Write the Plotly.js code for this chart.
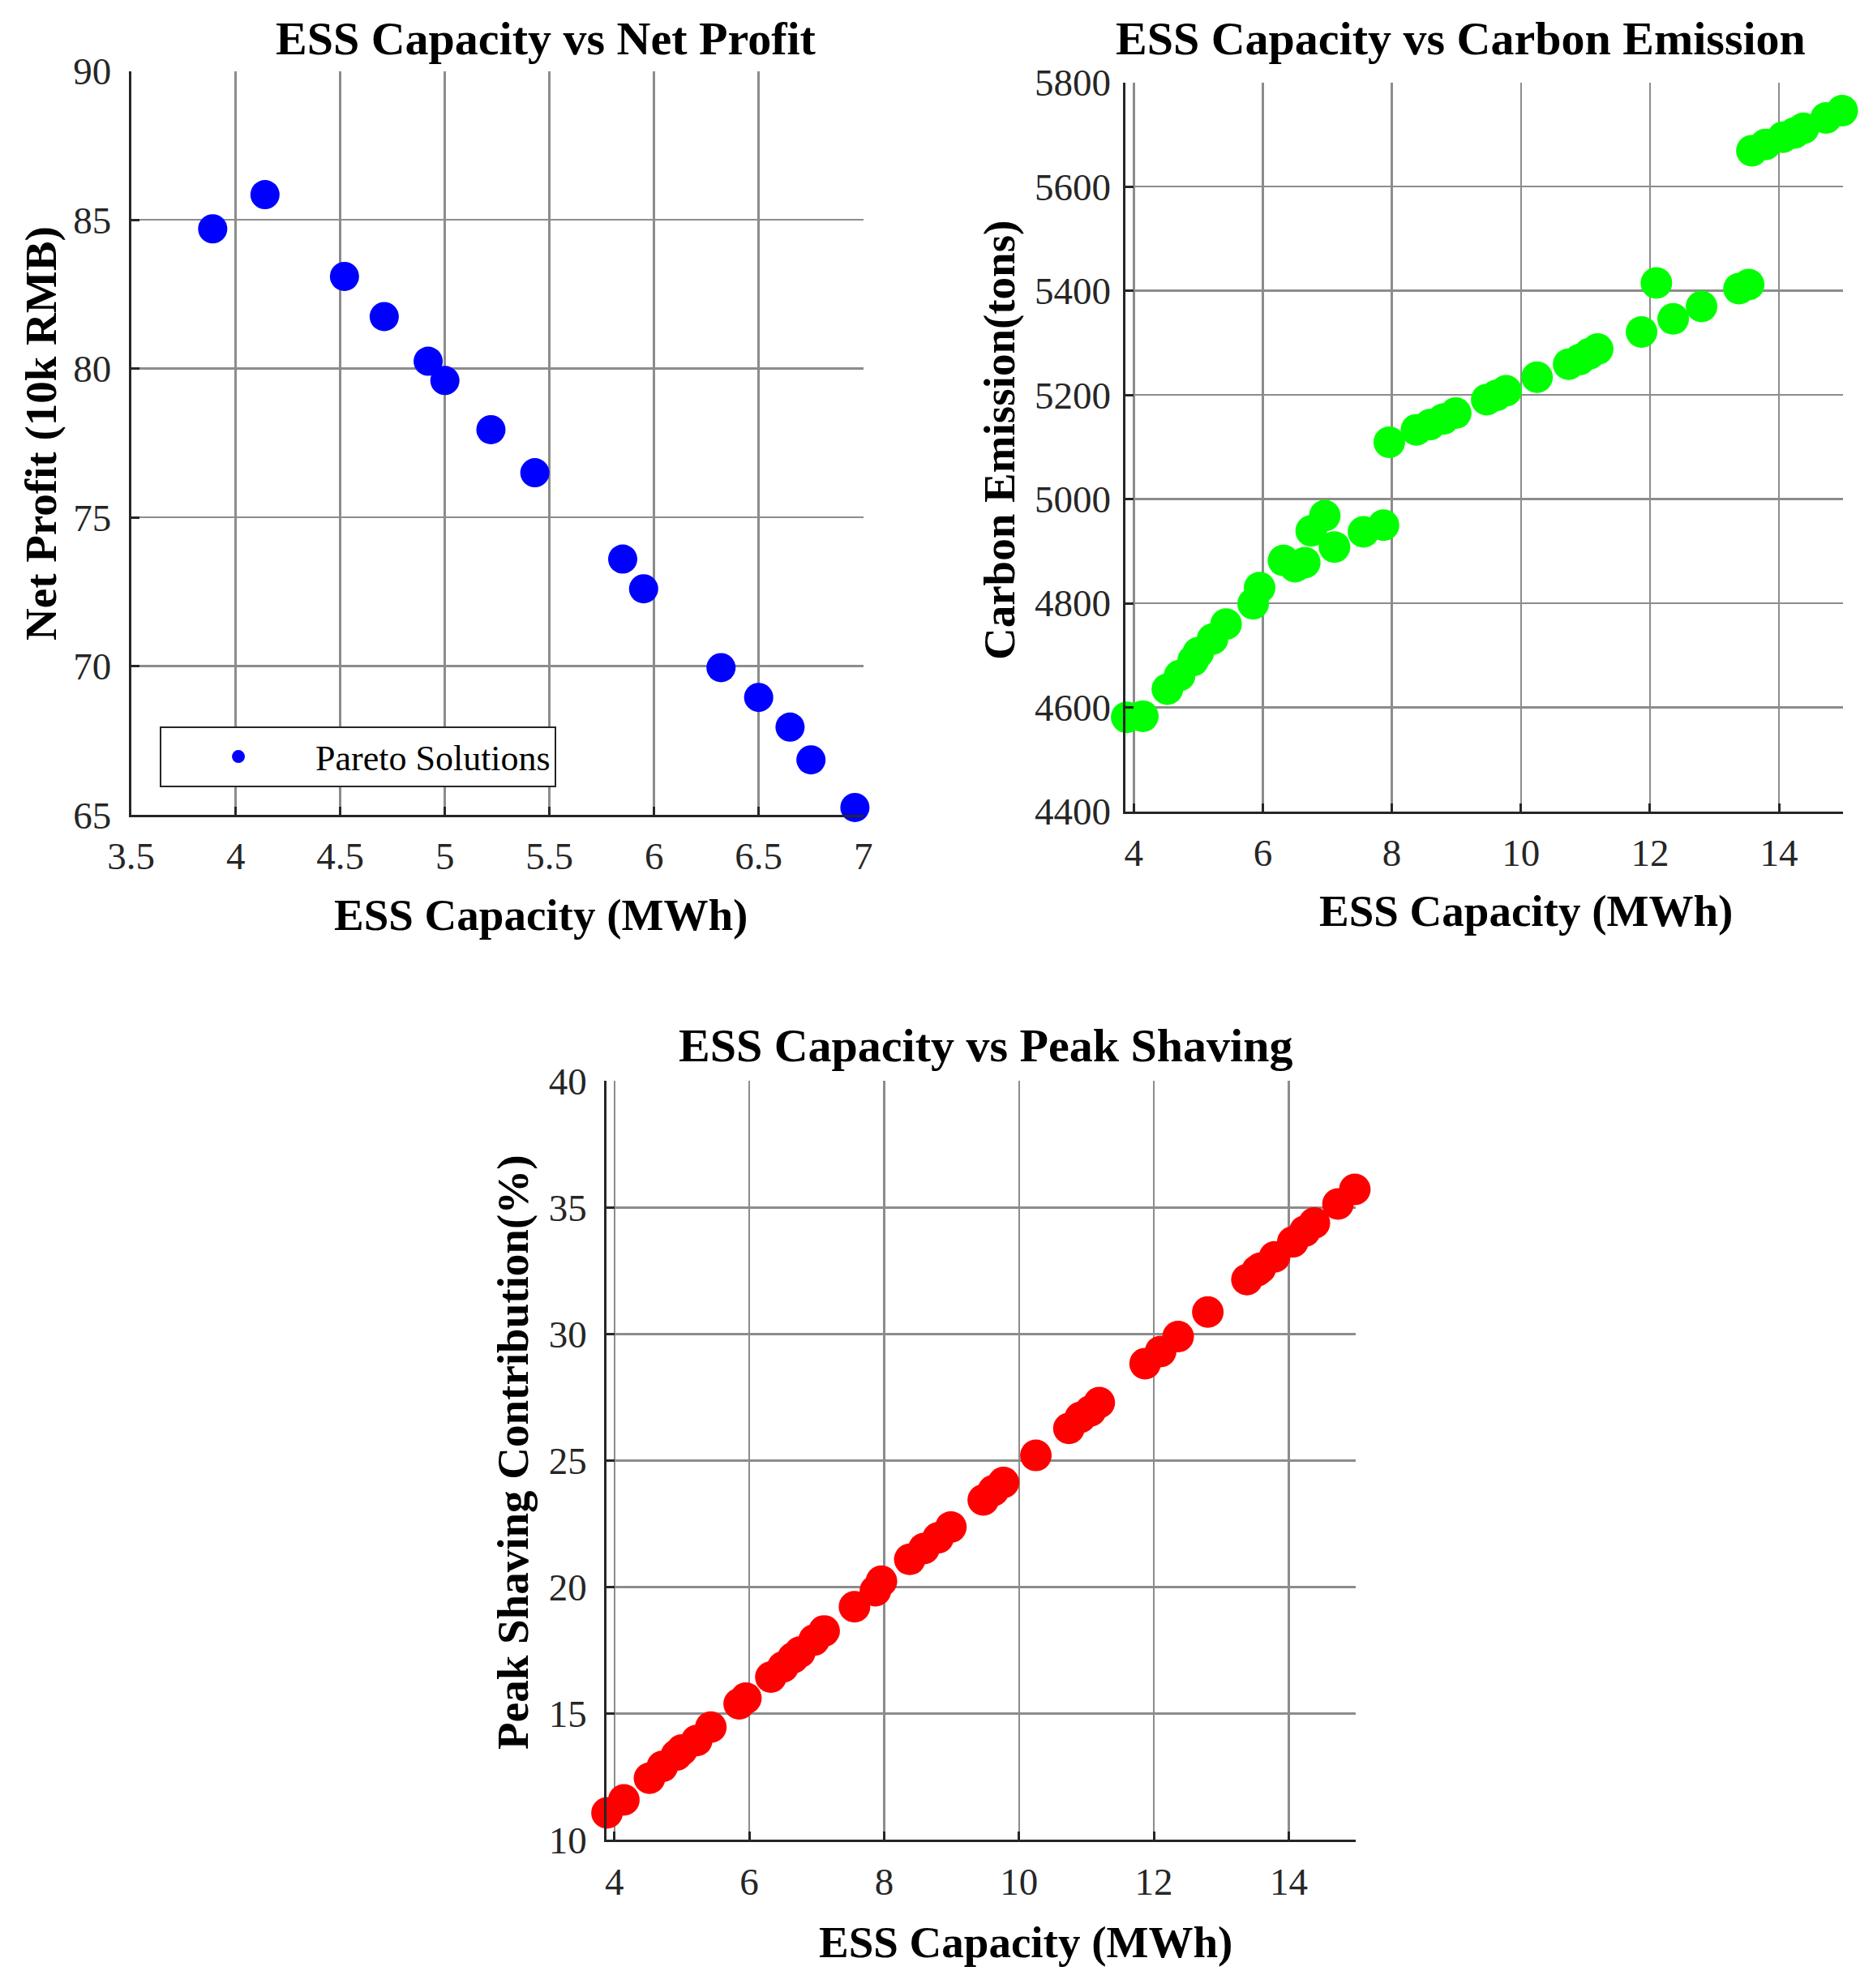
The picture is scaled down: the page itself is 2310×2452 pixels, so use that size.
<!DOCTYPE html>
<html>
<head>
<meta charset="utf-8">
<script src="https://cdn.plot.ly/plotly-3.0.1.min.js"></script>
<style>
  html, body { margin: 0; padding: 0; background: #ffffff; }
  #chart { width: 2310px; height: 2452px; }
</style>
</head>
<body>
<div id="chart"></div>
<script>
// Pareto solutions (panel 1)
const paretoCapacity = [3.89, 4.14, 4.52, 4.71, 4.92, 5.00, 5.22, 5.43, 5.85, 5.95, 6.32, 6.50, 6.65, 6.75, 6.96];
const netProfit = [84.7, 85.85, 83.1, 81.75, 80.25, 79.6, 77.95, 76.5, 73.6, 72.6, 69.95, 68.95, 67.95, 66.85, 65.25];

// all solutions (panels 2 and 3)
const capacity = [3.89, 4.14, 4.52, 4.71, 4.92, 5.00, 5.22, 5.43, 5.85, 5.95, 6.32, 6.50, 6.65, 6.75, 6.96,
  7.11, 7.56, 7.87, 7.96, 8.38, 8.59, 8.80, 8.99, 9.47, 9.62, 9.77, 10.25, 10.74, 10.91, 11.06, 11.19,
  11.87, 12.10, 12.36, 12.80, 13.38, 13.53, 13.58, 13.79, 14.06, 14.24, 14.38, 14.73, 14.98];
const carbon = [4581, 4583, 4635, 4661, 4690, 4705, 4731, 4760, 4799, 4830, 4882, 4870, 4878, 4939, 4968,
  4908, 4937, 4950, 5109, 5133, 5143, 5154, 5165, 5191, 5199, 5208, 5234, 5259, 5268, 5279, 5288,
  5321, 5415, 5346, 5370, 5404, 5412, 5669, 5681, 5695, 5703, 5712, 5732, 5746];
const peakShaving = [11.07, 11.58, 12.44, 12.90, 13.35, 13.55, 13.93, 14.46, 15.38, 15.60, 16.44, 16.84, 17.20, 17.42, 17.90,
  18.26, 19.22, 19.85, 20.23, 21.09, 21.52, 21.94, 22.37, 23.44, 23.81, 24.13, 25.20, 26.27, 26.70, 26.96, 27.29,
  28.83, 29.31, 29.90, 30.87, 32.15, 32.50, 32.60, 33.05, 33.64, 34.07, 34.39, 35.14, 35.72];

const SERIF = "Liberation Serif, Times New Roman, serif";
const AXIS_COLOR = "#262626";
const GRID_COLOR = "#8c8c8c";
const TICK_SIZE = 47;

var data = [
  {
    type: "scatter", mode: "markers", name: "Pareto Solutions",
    x: paretoCapacity, y: netProfit, xaxis: "x", yaxis: "y",
    marker: { color: "#0000ff", size: 36 },
    cliponaxis: false, showlegend: true,
  },
  {
    type: "scatter", mode: "markers", name: "Carbon Emission",
    x: capacity, y: carbon, xaxis: "x2", yaxis: "y2",
    marker: { color: "#00ff00", size: 39 },
    cliponaxis: false, showlegend: false,
  },
  {
    type: "scatter", mode: "markers", name: "Peak Shaving",
    x: capacity, y: peakShaving, xaxis: "x3", yaxis: "y3",
    marker: { color: "#ff0000", size: 39 },
    cliponaxis: false, showlegend: false,
  },
];

function axis(extra) {
  return Object.assign({
    showgrid: true,
    gridcolor: GRID_COLOR,
    gridwidth: 2.5,
    showline: true,
    linecolor: AXIS_COLOR,
    linewidth: 3,
    ticks: "inside",
    ticklen: 10,
    tickwidth: 3,
    tickcolor: AXIS_COLOR,
    zeroline: false,
    tickfont: { family: SERIF, size: TICK_SIZE, color: AXIS_COLOR },
    fixedrange: true,
  }, extra);
}

function label(text, x, y, size, angle) {
  return {
    text: text, x: x, y: y, xref: "paper", yref: "paper",
    xanchor: "center", yanchor: "middle", showarrow: false,
    textangle: angle || 0,
    font: { family: SERIF, size: size, color: "#000000", weight: "bold" },
  };
}

var layout = {
  width: 2310,
  height: 2452,
  margin: { l: 0, r: 0, t: 0, b: 0 },
  paper_bgcolor: "#ffffff",
  plot_bgcolor: "#ffffff",
  font: { family: SERIF, color: AXIS_COLOR },
  showlegend: true,
  legend: {
    x: 0.0853, y: 0.6346, xanchor: "left", yanchor: "top",
    bgcolor: "#ffffff", bordercolor: AXIS_COLOR, borderwidth: 2,
    font: { family: SERIF, size: 44, color: "#000000" },
    itemsizing: "trace",
    itemwidth: 180,
  },
  xaxis: axis({ domain: [0.0700, 0.4609], anchor: "y", range: [3.5, 7], tick0: 3.5, dtick: 0.5, ticklabelstandoff: 8 }),
  yaxis: axis({ domain: [0.5901, 0.9642], anchor: "x", range: [65, 90], tick0: 65, dtick: 5, ticklabelstandoff: 12 }),
  xaxis2: axis({ domain: [0.6010, 0.9839], anchor: "y2", range: [3.874, 14.99], tick0: 4, dtick: 2, ticklabelstandoff: 8 }),
  yaxis2: axis({ domain: [0.5918, 0.9585], anchor: "x2", range: [4400, 5800], tick0: 4400, dtick: 200, ticklabelstandoff: 6 }),
  xaxis3: axis({ domain: [0.3239, 0.7237], anchor: "y3", range: [3.885, 14.99], tick0: 4, dtick: 2, ticklabelstandoff: 8 }),
  yaxis3: axis({ domain: [0.0745, 0.4562], anchor: "x3", range: [10, 40], tick0: 10, dtick: 5, ticklabelstandoff: 12 }),
  annotations: [
    label("ESS Capacity vs Net Profit", 0.2915, 0.9808, 58),
    label("ESS Capacity vs Carbon Emission", 0.7797, 0.9808, 58),
    label("ESS Capacity vs Peak Shaving", 0.5264, 0.4739, 58),
    label("ESS Capacity (MWh)", 0.2889, 0.5396, 55),
    label("ESS Capacity (MWh)", 0.8147, 0.5416, 55),
    label("ESS Capacity (MWh)", 0.5476, 0.0232, 55),
    label("Net Profit (10k RMB)", 0.0216, 0.7822, 55, -90),
    label("Carbon Emission(tons)", 0.5333, 0.7785, 55, -90),
    label("Peak Shaving Contribution(%)", 0.2740, 0.2696, 55, -90),
  ],
};

Plotly.newPlot("chart", data, layout, { displayModeBar: false, staticPlot: true });
</script>
</body>
</html>
